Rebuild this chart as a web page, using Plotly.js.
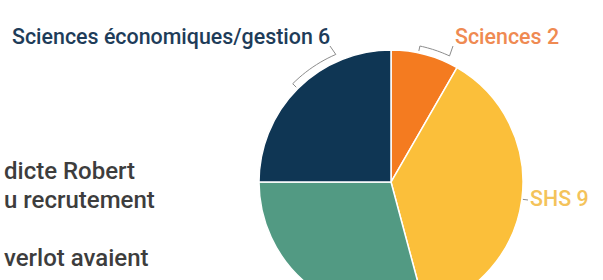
<!DOCTYPE html>
<html><head><meta charset="utf-8">
<script src="https://cdn.plot.ly/plotly-3.0.1.min.js"></script>
<style>html,body{margin:0;padding:0;overflow:hidden;background:#fff;width:603px;height:280px}</style>
</head><body><div id="chart" style="width:603px;height:360px"></div>
<script>
// ---- data ----
const categories = ["Sciences", "SHS", "Droit", "Sciences économiques/gestion"];
const values = [2, 9, 7, 6];
const paragraphLines = ["dicte Robert", "u recrutement", "verlot avaient"];

// ---- style ----
const sliceColors = ["#f47b20", "#fbbf3a", "#529a83", "#0f3654"];
const labelColors = ["#ef8a52", "#f4c35a", "#4f9a82", "#1e3c59"];
const W = 603, H = 360;
const CX = 391, CY = 182, R = 132;
// label anchor (px), anchor side, leader style
const labelStyle = [
  {x: 453, y: 37, anchor: "left", kind: "bracket", near: 0.83, far: 0.40},
  {x: 528, y: 198, anchor: "left", kind: "line"},
  {x: 330, y: 340, anchor: "right", kind: "bracket", near: 0.33, far: 0.55},
  {x: 332, y: 37, anchor: "right", kind: "bracket", near: 0.74, far: 0.50}
];
const labelFontSize = 21.4;
const paraStyle = {x: 2, ys: [171, 200, 258], size: 24, color: "#3d3d3d"};

const px = x => x / W, py = y => (H - y) / H;
const total = values.reduce((a, b) => a + b, 0);
const starts = [];
values.reduce((acc, v, i) => { starts[i] = acc; return acc + v; }, 0);
const ang = (i, f) => (starts[i] + f * values[i]) / total * 2 * Math.PI;
const pt = (a, r) => [CX + r * Math.sin(a), CY - r * Math.cos(a)];

const shapes = [], annotations = [];
labelStyle.forEach((s, i) => {
  const txt = categories[i] + " " + values[i];
  annotations.push({
    text: txt, xref: "paper", yref: "paper", x: px(s.x), y: py(s.y),
    xanchor: s.anchor, yanchor: "middle", showarrow: false,
    font: {family: "Roboto", size: labelFontSize, weight: 500, color: labelColors[i]}
  });
  let pts = [];
  if (s.kind === "bracket") {
    const a1 = ang(i, s.near), a2 = ang(i, s.far);
    pts.push([s.x + (s.anchor === "left" ? 0 : -2), s.y + 9]);
    const n = 12;
    for (let k = 0; k <= n; k++) pts.push(pt(a1 + (a2 - a1) * k / n, R + 7));
    pts.push(pt(a2, R + 2));
  } else {
    const a = ang(i, 0.5);
    pts.push(pt(a, R + 1));
    pts.push([s.x, s.y + 2]);
  }
  const d = pts.map((p, k) => (k ? "L" : "M") + px(p[0]).toFixed(5) + "," + py(p[1]).toFixed(5)).join(" ");
  shapes.push({type: "path", xref: "paper", yref: "paper", path: d,
    line: {color: "#8c8c8c", width: 1}});
});

paragraphLines.forEach((t, k) => annotations.push({
  text: t, xref: "paper", yref: "paper", x: px(paraStyle.x), y: py(paraStyle.ys[k]),
  xanchor: "left", yanchor: "middle", showarrow: false,
  font: {family: "Roboto", size: paraStyle.size, weight: 500, color: paraStyle.color}
}));

const trace = {
  type: "pie", labels: categories, values: values, sort: false,
  direction: "clockwise", rotation: 0, textinfo: "none", hoverinfo: "none",
  marker: {colors: sliceColors, line: {color: "#ffffff", width: 1.5}},
  domain: {x: [px(CX - R), px(CX + R)], y: [py(CY + R), py(CY - R)]},
  showlegend: false
};

Plotly.newPlot("chart", [trace], {
  width: W, height: H, margin: {l: 0, r: 0, t: 0, b: 0},
  paper_bgcolor: "#ffffff", plot_bgcolor: "#ffffff",
  shapes: shapes, annotations: annotations
}, {staticPlot: true, displayModeBar: false});
</script></body></html>
